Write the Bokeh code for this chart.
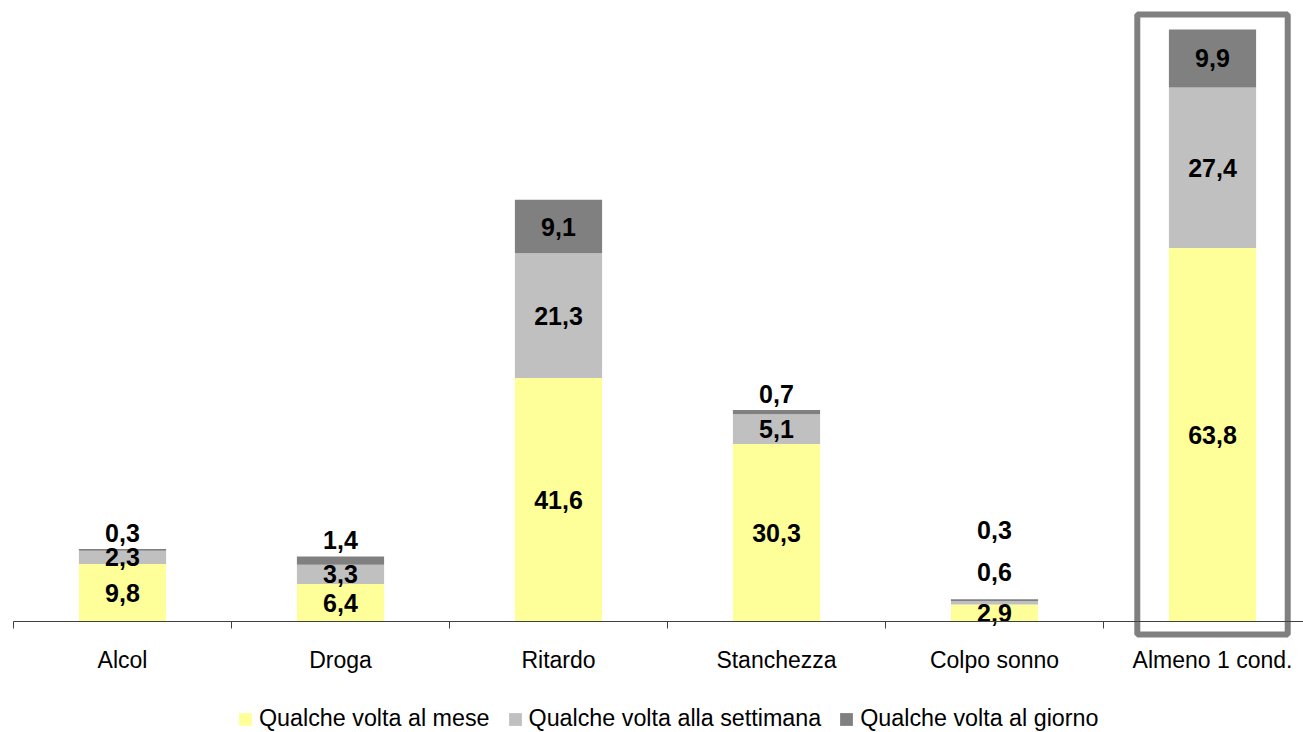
from bokeh.plotting import figure
from bokeh.models import ColumnDataSource, Range1d, FixedTicker, Legend, LegendItem
from bokeh.core.properties import value
from bokeh.embed import file_html
from bokeh.resources import INLINE

# ---- data ----
categories = ["Alcol", "Droga", "Ritardo", "Stanchezza", "Colpo sonno", "Almeno 1 cond."]
series_names = ["Qualche volta al mese", "Qualche volta alla settimana", "Qualche volta al giorno"]
mese = [9.8, 6.4, 41.6, 30.3, 2.9, 63.8]
settimana = [2.3, 3.3, 21.3, 5.1, 0.6, 27.4]
giorno = [0.3, 1.4, 9.1, 0.7, 0.3, 9.9]
highlight = "Almeno 1 cond."

# ---- style ----
colors = ["#FFFF99", "#C0C0C0", "#808080"]
FONT = "Liberation Sans"
W, H = 1303, 732
BASE_PX = 621          # page y of the zero line
LEFT_PX = 13           # page x of the category axis start
PX_PER_UNIT = 5.856
PX_PER_CAT = 218.0
n = len(categories)

y_top = BASE_PX / PX_PER_UNIT
y_bot = -(H - BASE_PX) / PX_PER_UNIT
x_left = -LEFT_PX / PX_PER_CAT
x_right = x_left + W / PX_PER_CAT

xs = [i + 0.5 for i in range(n)]
source = ColumnDataSource(dict(x=xs, mese=mese, settimana=settimana, giorno=giorno))

p = figure(width=W, height=H, output_backend="svg", toolbar_location=None,
           x_range=Range1d(x_left, x_right), y_range=Range1d(y_bot, y_top),
           min_border=0)
p.outline_line_color = None
p.grid.visible = False
p.yaxis.visible = False
p.background_fill_color = "white"

rs = p.vbar_stack(["mese", "settimana", "giorno"], x="x", width=0.4, color=colors,
                  line_color=None, source=source)

# category axis at zero line, separator ticks as minor ticks
ax = p.xaxis[0]
ax.fixed_location = 0
ax.bounds = (0, n)
ax.ticker = FixedTicker(ticks=xs, minor_ticks=list(range(n + 1)))
ax.major_label_overrides = {x: c for x, c in zip(xs, categories)}
ax.axis_line_color = "#404040"
ax.axis_line_width = 1
ax.major_tick_line_color = None
ax.major_tick_out = 0
ax.major_tick_in = 0
ax.minor_tick_line_color = "#404040"
ax.minor_tick_out = 7
ax.minor_tick_in = 0
ax.major_label_standoff = 18
ax.major_label_text_font = FONT
ax.major_label_text_font_size = "23px"
ax.major_label_text_color = "black"

# data labels (small segments are labelled above the bar, stacked)
lx, ly, lt, loff = [], [], [], []
for i in range(n):
    vals = [mese[i], settimana[i], giorno[i]]
    n_small = sum(1 for v in vals if v < 2)
    base = 0.0
    top = sum(vals)
    k = 0
    for v in vals:
        if v < 2:
            lx.append(xs[i]); ly.append(top)
            loff.append(-(16 + 42 * k + 11 * (n_small - 1))); k += 1
        else:
            lx.append(xs[i]); ly.append(base + v / 2); loff.append(0)
        lt.append(f"{v:.1f}".replace(".", ","))
        base += v
lsrc = ColumnDataSource(dict(x=lx, y=ly, t=lt, off=loff))
p.text(x="x", y="y", text="t", y_offset="off", source=lsrc, text_align="center",
       text_baseline="middle", text_font=value(FONT), text_font_size="25px",
       text_font_style="bold", text_color="black")

# highlight box
hi = categories.index(highlight)
htot = mese[hi] + settimana[hi] + giorno[hi]
hbox_top = htot + 15 / PX_PER_UNIT
hbox_bot = -13 / PX_PER_UNIT
p.rect(x=[xs[hi]], y=[(hbox_top + hbox_bot) / 2], width=0.69, height=hbox_top - hbox_bot,
       fill_color=None, line_color="#808080", line_width=6)

# legend
legend = Legend(items=[LegendItem(label=nm, renderers=[r]) for nm, r in zip(series_names, rs)],
                orientation="horizontal", location=(237, 0))
legend.border_line_color = None
legend.background_fill_alpha = 0
legend.padding = 0
legend.margin = 0
legend.spacing = 17
legend.glyph_width = 16
legend.glyph_height = 16
legend.label_standoff = 6
legend.label_height = 24
legend.label_text_font = FONT
legend.label_text_font_size = "23.3px"
legend.label_text_color = "black"
p.add_layout(legend, "center")

open("out.html", "w").write(file_html(p, INLINE))
